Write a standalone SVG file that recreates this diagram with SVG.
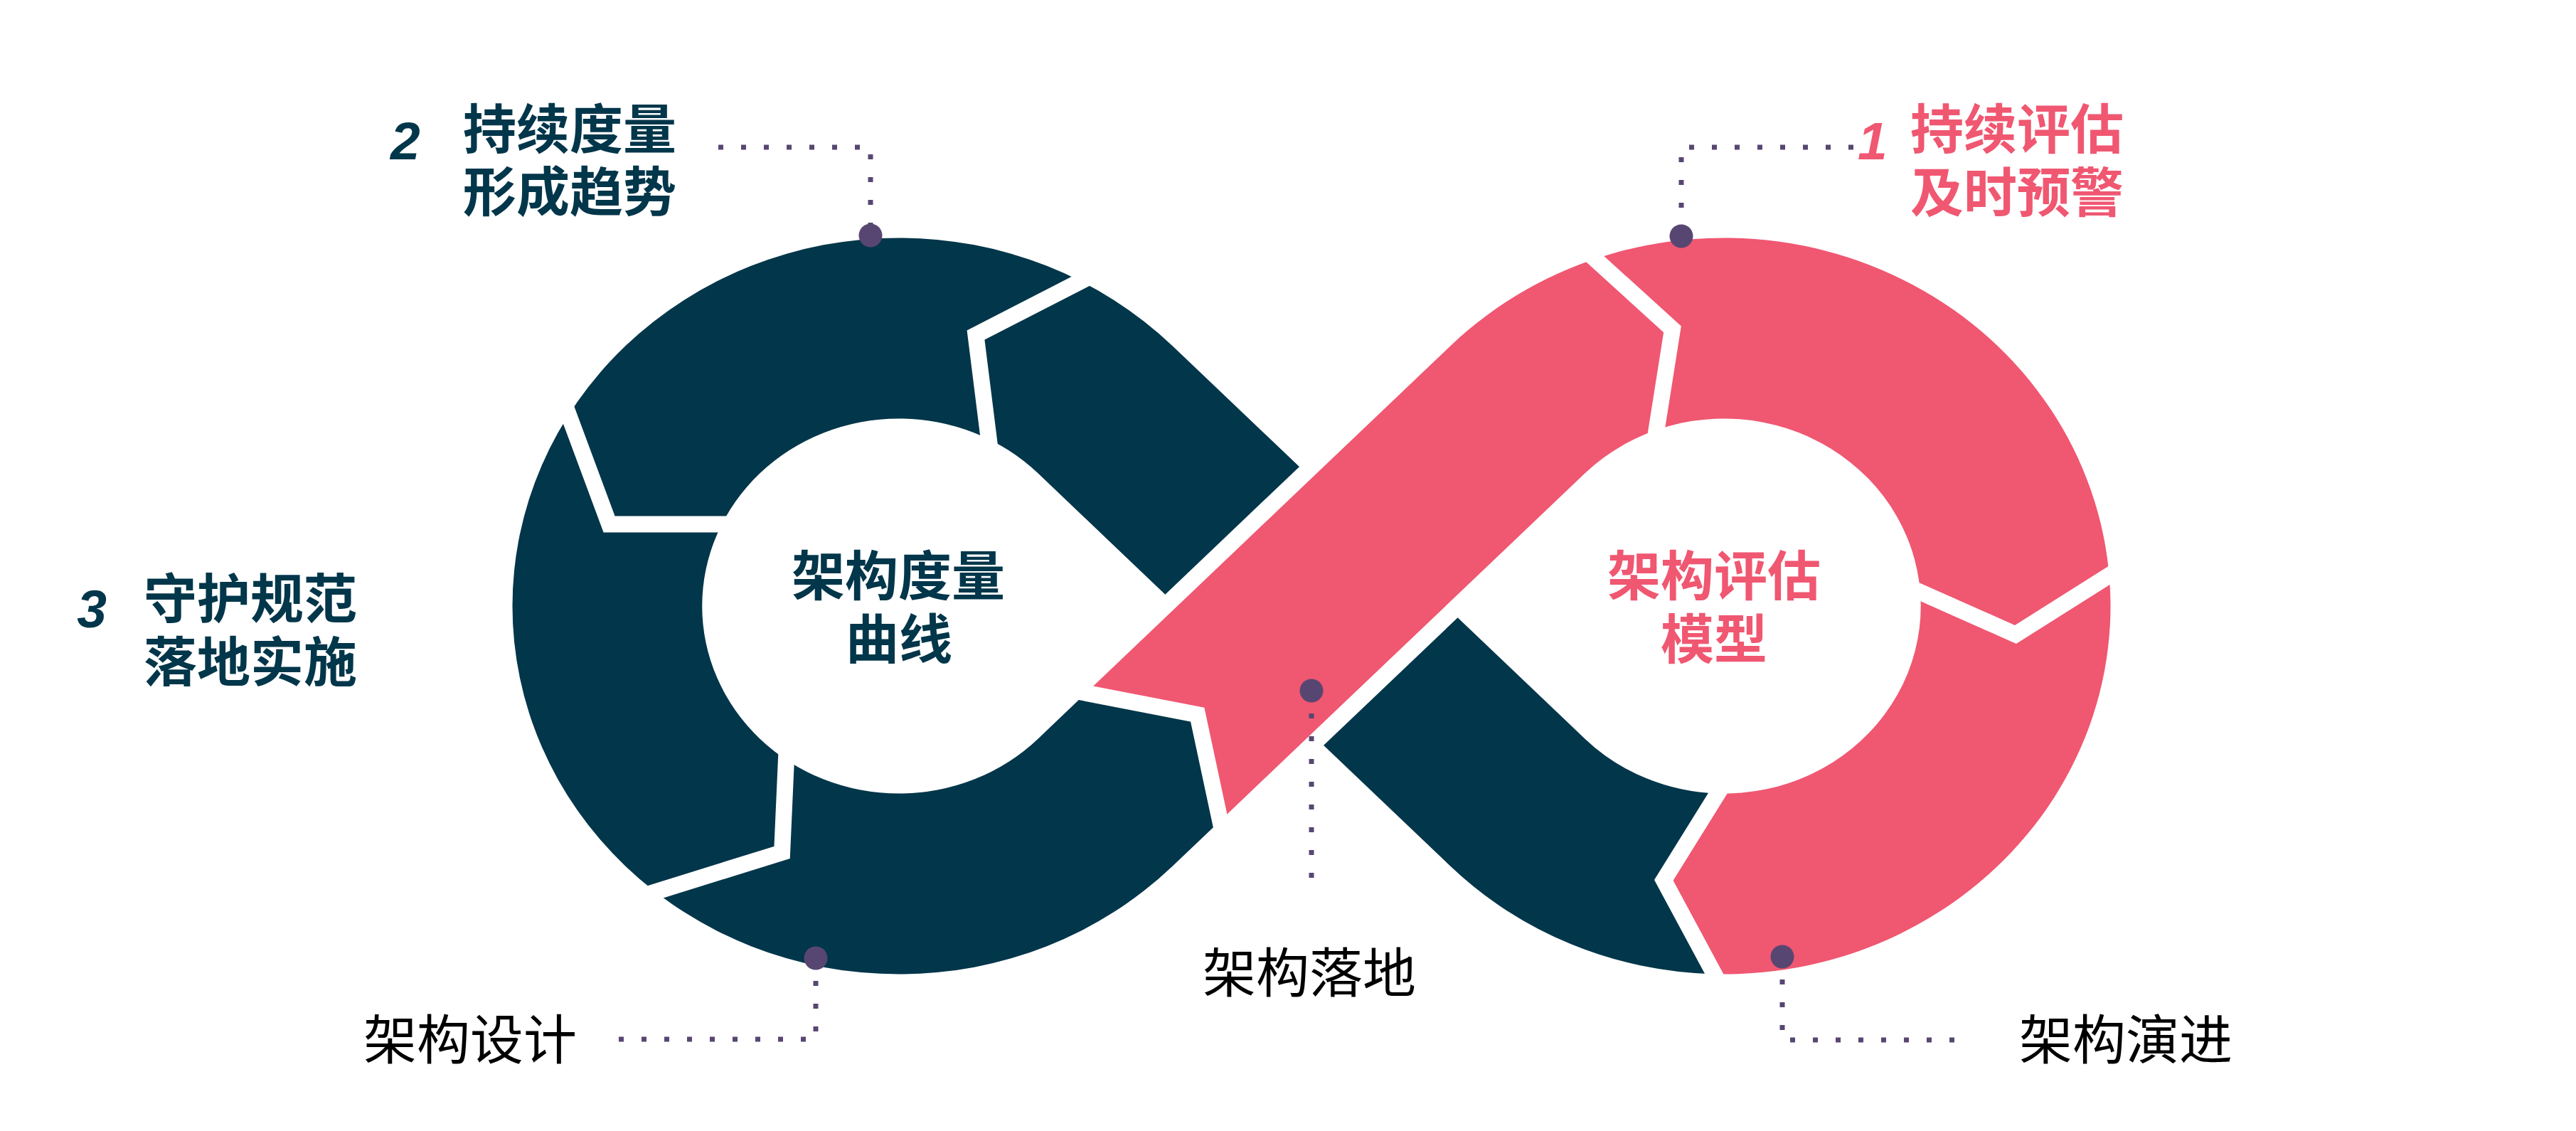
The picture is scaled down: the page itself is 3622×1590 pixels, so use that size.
<svg xmlns="http://www.w3.org/2000/svg" width="3622" height="1590" viewBox="0 0 3622 1590">
  <style>
    .dark { fill: #02364a; }
    .pink { fill: #f05771; }
    .gap { fill: none; stroke: #ffffff; stroke-width: 23; stroke-linejoin: miter; stroke-miterlimit: 10; }
    .lead { fill: none; stroke: #584672; stroke-width: 7; stroke-dasharray: 7 25; }
    .dot { fill: #584672; }
    .h { font-family: "Noto Sans CJK SC", "Noto Sans", sans-serif; font-weight: 700; font-size: 75px; }
    .r { font-family: "Noto Sans CJK SC", "Noto Sans", sans-serif; font-weight: 400; font-size: 75px; fill: #000000; }
    .num { font-family: "Liberation Sans", Arial, sans-serif; font-weight: 700; font-style: italic; font-size: 75px; }
    .tdark { fill: #02364a; }
    .tpink { fill: #f05771; }
  </style>
  <rect width="3622" height="1590" fill="#ffffff"/>

  <g id="infinity-band" transform="translate(1844 852) scale(1.05 1)">
    <path id="dark-band" class="dark" d="M -186.4,-366 A 517.6 517.6 0 1 0 -186.4,366 L -122.3,301.9 L -152.7,152.7 L -301.9,122.3 L -366,186.4 A 263.6 263.6 0 1 1 -366,-186.4 L 186.4,366 A 517.6 517.6 0 0 0 538.9,517.4 L 471.7,385.4 L 543.7,263.5 A 263.6 263.6 0 0 1 366,186.4 Z"/>
    <path id="crossing-gap" fill="#ffffff" d="M 212.1,0 L 0,-212.1 L -212.1,0 L 0,212.1 Z"/>
    <path id="pink-band" class="pink" d="M -301.9,122.3 L 186.4,-366 A 517.6 517.6 0 1 1 538.9,517.4 L 471.7,385.4 L 543.7,263.5 A 263.6 263.6 0 1 0 366,-186.4 L -122.3,301.9 L -152.7,152.7 Z"/>
  </g>

  <g id="segment-cuts">
    <polyline class="gap" points="1537.8,385.9 1372,471 1392.5,634.8"/>
    <polyline class="gap" points="792.2,563.6 856.6,736.9 1033.5,736.9"/>
    <polyline class="gap" points="902.6,1259.7 1099.6,1198.4 1106.3,1048.3"/>
    <polyline class="gap" points="1507.4,970.5 1683.7,1004.7 1719.8,1173.5"/>
    <polyline class="gap" points="2227.2,350 2351.5,462.9 2326.2,622.8"/>
    <polyline class="gap" points="2683.2,824.9 2834,892 2982.9,798"/>
    <polyline class="gap" points="2425.6,1098.7 2339.3,1237.4 2419.2,1385.9"/>
  </g>

  <g id="connectors">
    <path class="lead" d="M 1010,207 H 1224 V 331"/>
    <path class="lead" d="M 2606,207 H 2364 V 332"/>
    <path class="lead" d="M 1147,1347 V 1461 H 860"/>
    <path class="lead" d="M 1844,971 V 1248"/>
    <path class="lead" d="M 2506,1345 V 1462 H 2760"/>
  </g>

  <g id="dots">
    <circle class="dot" cx="1224" cy="331" r="16.5"/>
    <circle class="dot" cx="2364" cy="332" r="16.5"/>
    <circle class="dot" cx="1147" cy="1347" r="16.5"/>
    <circle class="dot" cx="1844" cy="971" r="16.5"/>
    <circle class="dot" cx="2506" cy="1345" r="16.5"/>
  </g>

  <g id="node-measure-center">
    <text class="h tdark" text-anchor="middle"><tspan x="1263" y="837">架构度量</tspan><tspan x="1264" y="926">曲线</tspan></text>
  </g>
  <g id="node-assess-center">
    <text class="h tpink" text-anchor="middle"><tspan x="2410" y="837">架构评估</tspan><tspan x="2410" y="926">模型</tspan></text>
  </g>

  <g id="node-2">
    <text class="num tdark" x="549" y="224">2</text>
    <text class="h tdark"><tspan x="651" y="209">持续度量</tspan><tspan x="651" y="297">形成趋势</tspan></text>
  </g>
  <g id="node-1">
    <text class="num tpink" x="2612" y="224">1</text>
    <text class="h tpink"><tspan x="2686" y="209">持续评估</tspan><tspan x="2686" y="298">及时预警</tspan></text>
  </g>
  <g id="node-3">
    <text class="num tdark" x="129" y="882" text-anchor="middle">3</text>
    <text class="h tdark"><tspan x="202" y="869">守护规范</tspan><tspan x="202" y="958">落地实施</tspan></text>
  </g>

  <g id="node-design">
    <text class="r" x="511" y="1489">架构设计</text>
  </g>
  <g id="node-landing">
    <text class="r" x="1841" y="1395" text-anchor="middle">架构落地</text>
  </g>
  <g id="node-evolve">
    <text class="r" x="2839" y="1489">架构演进</text>
  </g>
</svg>
